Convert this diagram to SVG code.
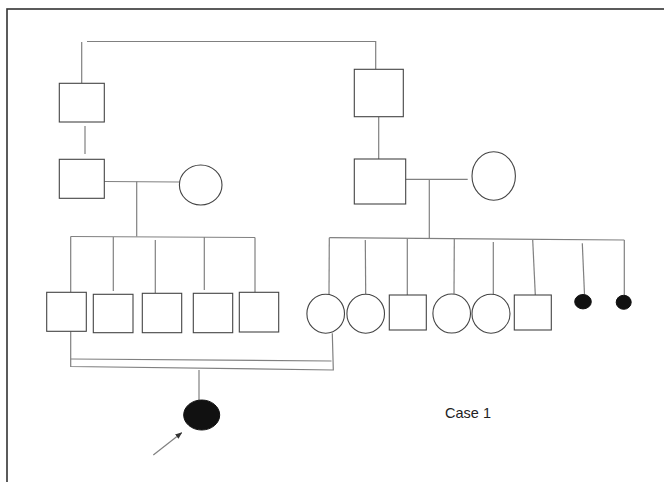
<svg xmlns="http://www.w3.org/2000/svg" width="664" height="482" viewBox="0 0 664 482">
<defs>
<style>
.frame{fill:none;stroke:#333;stroke-width:1.6}
.sym{fill:#fff;stroke:#444;stroke-width:1.1}
.aff{fill:#111;stroke:#111;stroke-width:1}
.ln{fill:none;stroke:#808080;stroke-width:1.2}
.lbl{font-family:"Liberation Sans",Arial,sans-serif;font-size:14.5px;fill:#222}
</style>
<marker id="ah" viewBox="0 0 10 10" refX="9" refY="5" markerWidth="7" markerHeight="7" orient="auto" markerUnits="userSpaceOnUse">
<path d="M0,1 L10,5 L0,9 Z" fill="#333"/>
</marker>
</defs>
<rect x="0" y="0" width="664" height="482" fill="#fff"/>
<rect class="frame" x="7" y="9" width="700" height="520"/>
<g id="connectors">
<path class="ln" d="M87,41.5 L375.7,41.5 L375.7,69"/>
<path class="ln" d="M81.7,42 L81.7,83"/>
<path class="ln" d="M85,126 L85,154"/>
<path class="ln" d="M378.7,117 L378.7,159"/>
<path class="ln" d="M104,181.5 L179.5,182"/>
<path class="ln" d="M136.7,181.5 L136.7,236.5"/>
<path class="ln" d="M70.7,236.5 L255,237.5"/>
<path class="ln" d="M70.7,236.5 L70.7,292.3"/>
<path class="ln" d="M113.3,237 L113.3,291"/>
<path class="ln" d="M155.3,240 L155.3,293"/>
<path class="ln" d="M204.3,237 L204.3,290"/>
<path class="ln" d="M255,237.5 L255,292.3"/>
<path class="ln" d="M405.5,179.3 L467.7,179.3"/>
<path class="ln" d="M429.3,179.3 L429.3,238.3"/>
<path class="ln" d="M329.3,237.7 L624.3,240"/>
<path class="ln" d="M329.3,237.7 L329,294.3"/>
<path class="ln" d="M365.3,240 L365.7,294.3"/>
<path class="ln" d="M407.3,238.5 L407.3,295"/>
<path class="ln" d="M454.3,239 L454,293.7"/>
<path class="ln" d="M493.3,242 L493.3,294.2"/>
<path class="ln" d="M532.7,240 L535.3,295"/>
<path class="ln" d="M582.3,243.3 L584.5,294.5"/>
<path class="ln" d="M624.3,240 L624.3,295.3"/>
<path class="ln" d="M70.7,331.3 L70.7,366.5 L333.3,370 L332.3,333.2"/>
<path class="ln" d="M70.7,359 L331.5,361"/>
<path class="ln" d="M199,370 L199,400.5"/>
<path class="ln" d="M153.3,455 L181.7,432.7" stroke="#333" marker-end="url(#ah)"/>
</g>
<g id="gen1-left"><rect class="sym" x="59.3" y="83.3" width="45" height="38.7"/></g>
<g id="gen1-right"><rect class="sym" x="354.3" y="69.3" width="49" height="47.4"/></g>
<g id="gen2-left-male"><rect class="sym" x="59.3" y="159.3" width="45" height="39"/></g>
<g id="gen2-left-female"><ellipse class="sym" cx="200.7" cy="185" rx="21.3" ry="20"/></g>
<g id="gen2-right-male"><rect class="sym" x="354.3" y="159" width="51.4" height="45"/></g>
<g id="gen2-right-female"><ellipse class="sym" cx="493.7" cy="176" rx="21.7" ry="24.3"/></g>
<g id="l-child1"><rect class="sym" x="46.7" y="292.3" width="39.6" height="39"/></g>
<g id="l-child2"><rect class="sym" x="93.3" y="294.3" width="39.7" height="38.4"/></g>
<g id="l-child3"><rect class="sym" x="142.3" y="293.3" width="39.4" height="39.4"/></g>
<g id="l-child4"><rect class="sym" x="193.3" y="293.3" width="39.4" height="39.4"/></g>
<g id="l-child5"><rect class="sym" x="239.3" y="292.3" width="39.4" height="39.7"/></g>
<g id="r-child1"><ellipse class="sym" cx="325.7" cy="313.7" rx="18.8" ry="19.5"/></g>
<g id="r-child2"><ellipse class="sym" cx="365.7" cy="313.7" rx="18.8" ry="19.5"/></g>
<g id="r-child3"><rect class="sym" x="389.3" y="295" width="37" height="35"/></g>
<g id="r-child4"><ellipse class="sym" cx="451.7" cy="313.5" rx="18.8" ry="19.5"/></g>
<g id="r-child5"><ellipse class="sym" cx="491" cy="313.7" rx="19" ry="19.5"/></g>
<g id="r-child6"><rect class="sym" x="514.3" y="295" width="37" height="35"/></g>
<g id="r-child7"><ellipse class="aff" cx="583" cy="301.7" rx="8.3" ry="7.2"/></g>
<g id="r-child8"><ellipse class="aff" cx="623.7" cy="302.3" rx="7.5" ry="7"/></g>
<g id="proband"><ellipse class="aff" cx="201.7" cy="415" rx="18" ry="15"/></g>
<g id="caption"><text class="lbl" x="445" y="418.3">Case 1</text></g>
</svg>
